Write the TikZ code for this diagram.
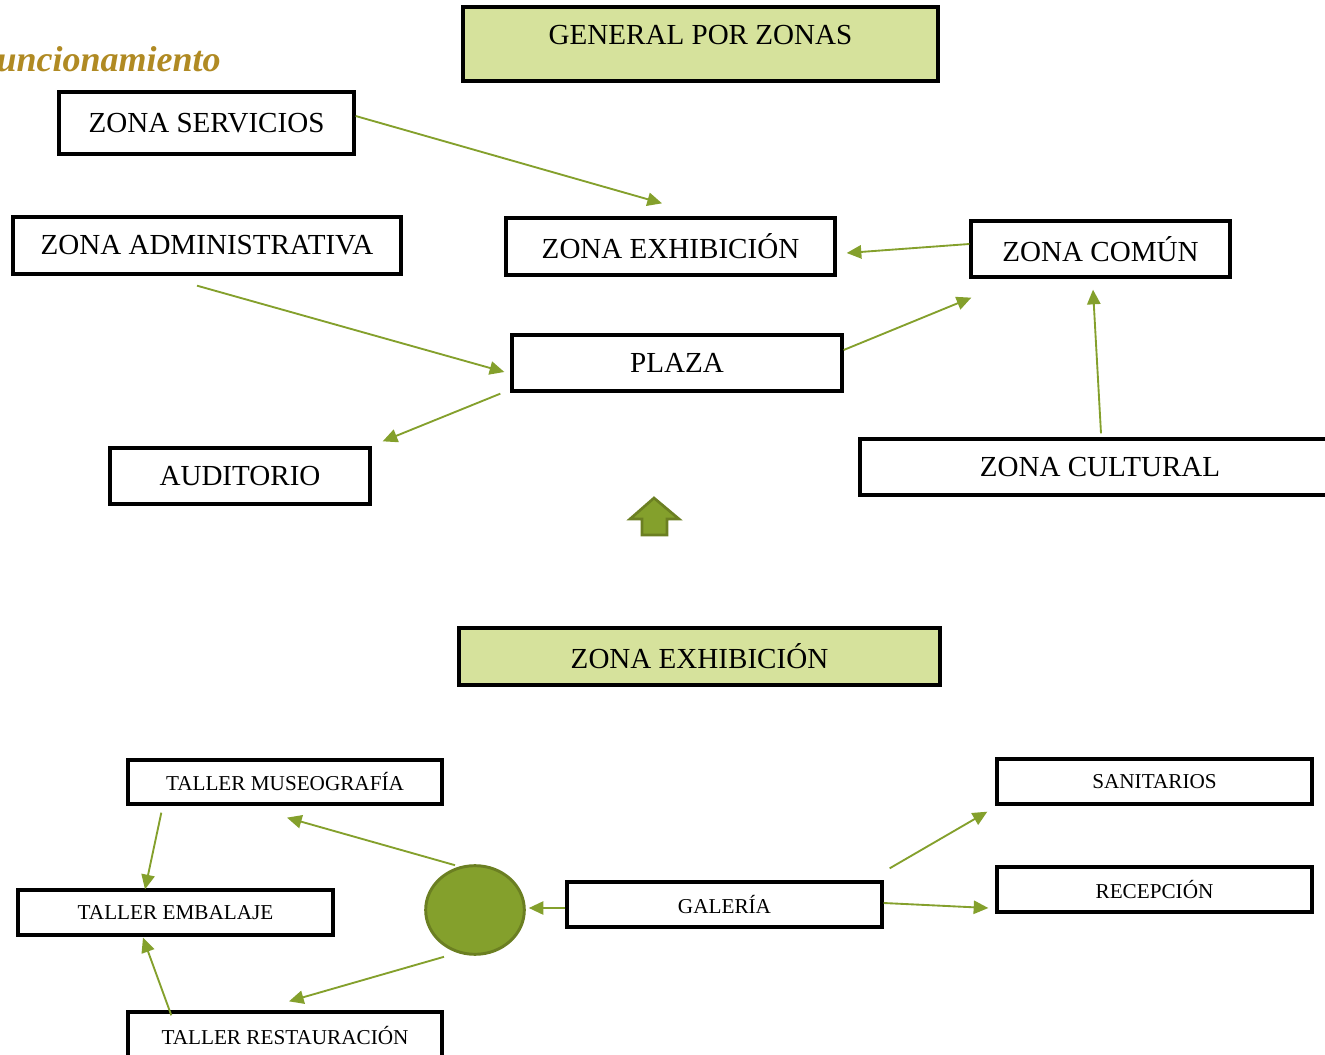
\documentclass[tikz,border=0pt]{standalone}
\usepackage{fontspec}
\setmainfont{Liberation Serif}
\usetikzlibrary{arrows.meta,shapes.geometric}
\definecolor{boxgreen}{HTML}{D6E29C}
\definecolor{arrgreen}{HTML}{84A02C}
\definecolor{darkgreen}{HTML}{6B7F22}
\definecolor{gold}{HTML}{B08A23}
\tikzset{
  box/.style={draw=black, line width=2.5pt, inner sep=0pt, rectangle},
  big/.style={font=\fontsize{21.8}{26}\selectfont},
  small/.style={font=\fontsize{15.9}{19}\selectfont},
  conn/.style={draw=arrgreen, line width=1.4pt, -{Triangle[length=11pt,width=10pt]}},
}
\begin{document}
\begin{tikzpicture}[x=0.75pt,y=-0.75pt]
\useasboundingbox (0,0) rectangle (1325,1055);
% title
\node[anchor=base east, text=gold, font=\fontsize{27}{32}\selectfont\bfseries\itshape, inner sep=0pt] (title) at (221,72) {Funcionamiento};
% top
\node[box, fill=boxgreen, minimum width=356.25pt, minimum height=55.5pt, label={[big, yshift=6.75pt]center:GENERAL POR ZONAS}] (gen) at (700.5,44) {};
\node[box, big, minimum width=221.25pt, minimum height=46.5pt] (serv) at (206.5,123) {ZONA SERVICIOS};
\node[box, big, minimum width=291pt, minimum height=42.75pt] (admin) at (207,245.5) {ZONA ADMINISTRATIVA};
\node[box, big, minimum width=246.75pt, minimum height=42.75pt] (exhib) at (670.5,246.5) {ZONA EXHIBICIÓN};
\node[box, big, minimum width=194.25pt, minimum height=42pt] (comun) at (1100.5,249) {ZONA COMÚN};
\node[box, big, minimum width=247.5pt, minimum height=42pt] (plaza) at (677,363) {PLAZA};
\node[box, big, minimum width=195pt, minimum height=42pt] (audit) at (240,476) {AUDITORIO};
\node[box, big, minimum width=360pt, minimum height=42pt] (cult) at (1100,467) {ZONA CULTURAL};
% up arrow
\draw[fill=arrgreen, draw=darkgreen, line width=2pt, line join=miter]
  (654,498) -- (679,519) -- (667,519) -- (667,535) -- (642,535) -- (642,519) -- (630,519) -- cycle;
% bottom
\node[box, big, fill=boxgreen, minimum width=360.75pt, minimum height=42.75pt] (zexh) at (699.5,656.5) {ZONA EXHIBICIÓN};
\node[box, small, minimum width=235.5pt, minimum height=33pt] (museo) at (285,782) {TALLER MUSEOGRAFÍA};
\node[box, small, minimum width=236.25pt, minimum height=33.75pt] (sanit) at (1154.5,781.5) {SANITARIOS};
\node[box, small, minimum width=236.25pt, minimum height=33.75pt] (embal) at (175.5,912.5) {TALLER EMBALAJE};
\node[ellipse, draw=darkgreen, fill=arrgreen, line width=2.2pt, minimum width=74pt, minimum height=66.5pt, inner sep=0pt] (circ) at (475,910) {};
\node[box, small, minimum width=236.25pt, minimum height=33.75pt] (gal) at (724.5,904.5) {GALERÍA};
\node[box, small, minimum width=236.25pt, minimum height=33.75pt] (recep) at (1154.5,889.5) {RECEPCIÓN};
\node[box, small, minimum width=235.5pt, minimum height=34.5pt] (resta) at (285,1035) {TALLER RESTAURACIÓN};
% connectors
\draw[conn] ([shift={(0,-7)}]serv.east) -- ([shift={(-8.5,-13)}]exhib.north);
\draw[conn] ([shift={(0,-5)}]comun.west) -- ([shift={(10,6.5)}]exhib.east);
\draw[conn] ([shift={(-10,10)}]admin.south) -- ([shift={(-6,9)}]plaza.west);
\draw[conn] ([shift={(0,-13)}]plaza.east) -- ([shift={(2,19)}]comun.south west);
\draw[conn] ([shift={(-10,1)}]plaza.south west) -- ([shift={(11,-5)}]audit.north east);
\draw[conn] ([shift={(1,-4)}]cult.north) -- ([shift={(-7.5,11)}]comun.south);
\draw[conn] ([shift={(-20,1)}]circ.north) -- ([shift={(2,12)}]museo.south);
\draw[conn] ([shift={(35,7)}]museo.south west) -- ([shift={(-30.5,1)}]embal.north);
\draw[conn] ([shift={(0,3.5)}]gal.west) -- ([shift={(3,-2)}]circ.east);
\draw[conn] ([shift={(6,-12)}]gal.north east) -- ([shift={(-8,6)}]sanit.south west);
\draw[conn] ([shift={(0,-1.5)}]gal.east) -- ([shift={(-7,18.5)}]recep.west);
\draw[conn] ([shift={(-31,1)}]circ.south) -- ([shift={(4,-9)}]resta.north);
\draw[conn] ([shift={(45,5)}]resta.north west) -- ([shift={(-32.5,1)}]embal.south);
\end{tikzpicture}
\end{document}
